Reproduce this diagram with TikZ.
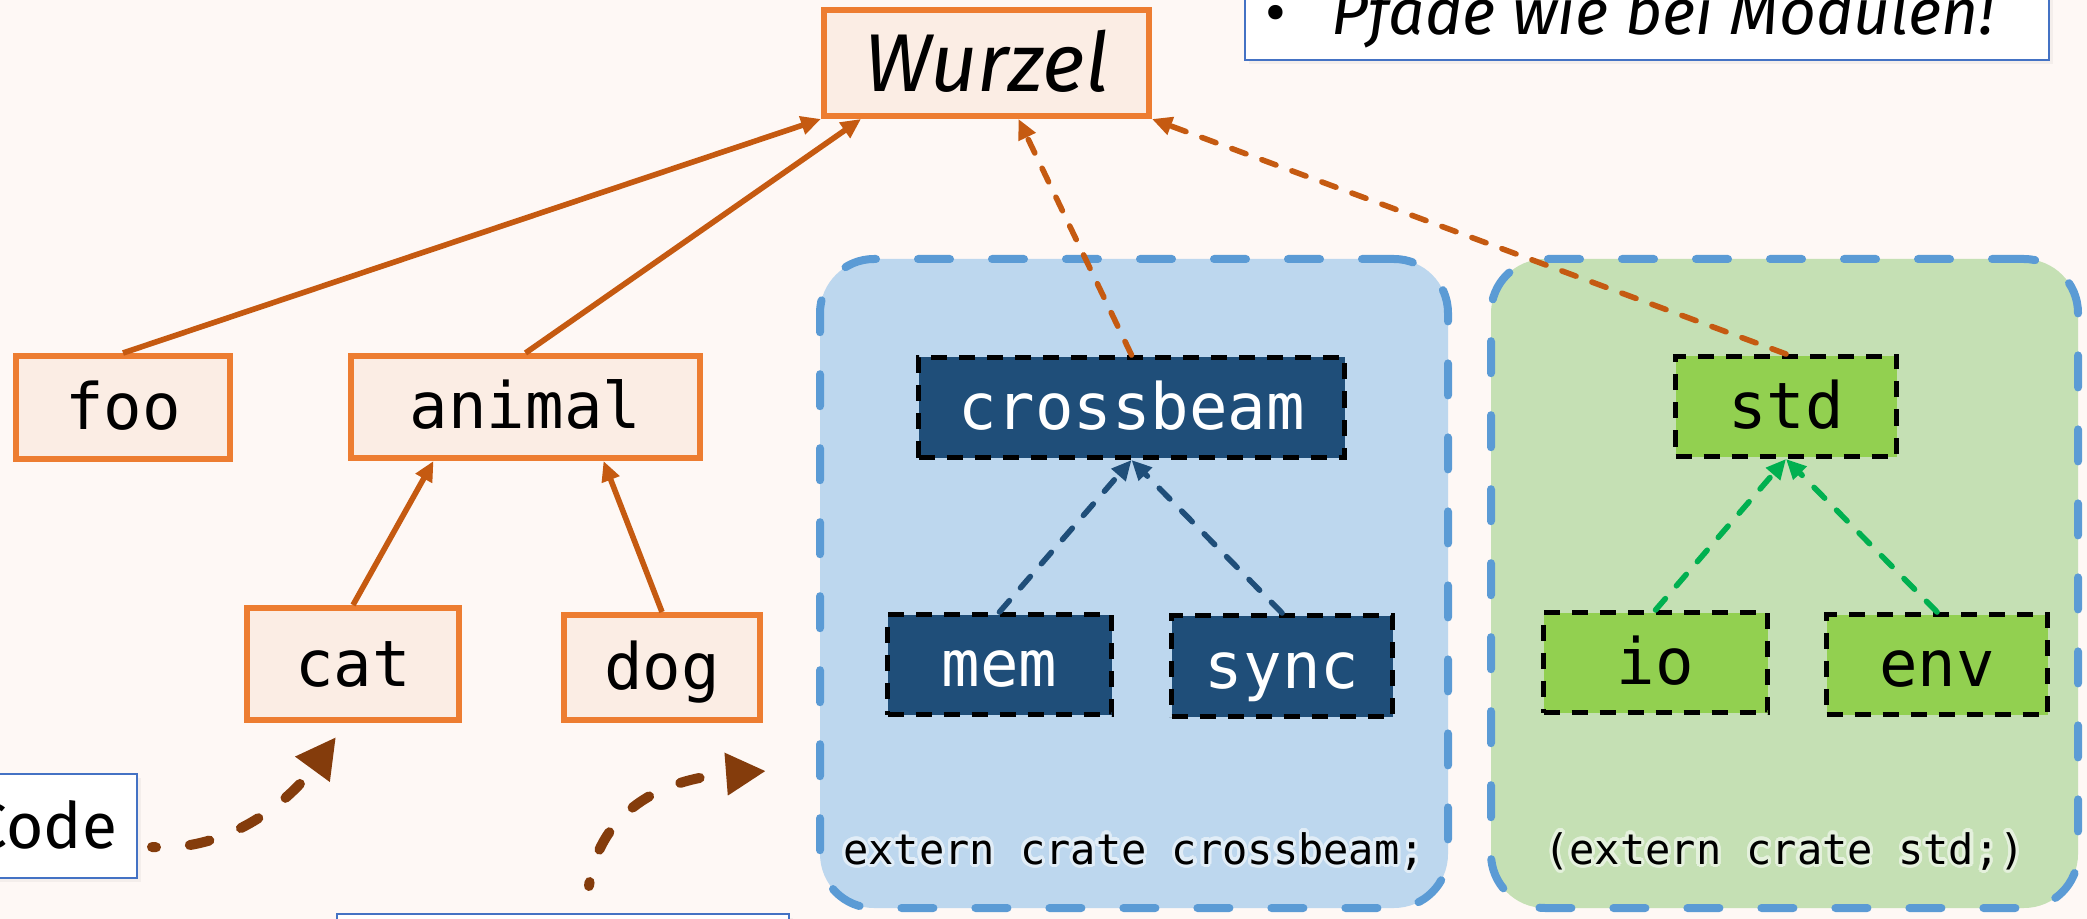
\documentclass[tikz,border=0pt]{standalone}
\usepackage{fontspec}
\setmainfont{Fira Sans}
\setmonofont{DejaVu Sans Mono}
\usepackage{contour}
\contourlength{1.6pt}
\contournumber{24}
\usetikzlibrary{arrows.meta, shadows}
\definecolor{slidebg}{HTML}{FEF8F5}
\definecolor{modline}{HTML}{ED7D31}
\definecolor{modfill}{HTML}{FBEDE4}
\definecolor{modarrow}{HTML}{C55A11}
\definecolor{crateline}{HTML}{5B9BD5}
\definecolor{crossbg}{HTML}{BDD7EE}
\definecolor{stdbg}{HTML}{C5E0B4}
\definecolor{crossmod}{HTML}{1F4E79}
\definecolor{stdmod}{HTML}{92D050}
\definecolor{stdarrow}{HTML}{00B050}
\definecolor{noteline}{HTML}{4472C4}
\definecolor{hintbrown}{HTML}{843C0C}
\tikzset{
    mod-box/.style = {draw=modline, fill=modfill, line width=3pt, rectangle, inner sep=0pt, font=\ttfamily\fontsize{32}{36}\selectfont, text height=26pt, text depth=4pt},
    crate-mod/.style = {draw=black, line width=2.5pt, dash pattern=on 8pt off 6pt, rectangle, inner sep=0pt, font=\ttfamily\fontsize{32}{36}\selectfont, text height=26pt, text depth=4pt},
    crate-box/.style = {draw=crateline, line width=4pt, line cap=round, dash pattern=on 16pt off 21pt, rounded corners=27pt, inner sep=0pt},
    crate-label/.style = {font=\ttfamily\fontsize{21}{24}\selectfont, inner sep=0pt},
    note-box/.style = {draw=noteline, fill=white, line width=1pt, rectangle, drop shadow={opacity=0.08, shadow xshift=2pt, shadow yshift=-2pt}},
    tree-arrow/.style = {draw=modarrow, line width=2.8pt, -{Triangle[length=10pt,width=9pt]}},
    dep-arrow/.style = {line width=2.8pt, line cap=round, dash pattern=on 7.5pt off 8.5pt, -{Triangle[length=10pt,width=9pt]}},
    hint-arrow/.style = {draw=hintbrown, line width=5pt, line cap=round, dash pattern=on 10pt off 17pt, dash phase=8pt, -{Triangle[length=20pt,width=20pt]}},
}

\begin{document}
\begin{tikzpicture}[x=0.5pt, y=-0.5pt]
\fill[slidebg] (0,0) rectangle (2087,919);
\useasboundingbox (0,0) rectangle (2087,919);

\node[crate-box, fill=crossbg, minimum width=314pt, minimum height=324.5pt] (cbox) at (1134,583.5) {};
\node[crate-box, fill=stdbg, minimum width=293.5pt, minimum height=324.5pt] (sbox) at (1784.5,583.5) {};
\node[crate-label, anchor=base] (cblabel) at ([yshift=24pt]cbox.south) {\contour{white!55!crossbg}{extern crate crossbeam;}};
\node[crate-label, anchor=base] (sblabel) at ([yshift=24pt]sbox.south) {\contour{white!55!stdbg}{(extern crate std;)}};

\node[note-box, anchor=south west, inner xsep=10pt, inner ysep=5.5pt, font=\fontsize{32}{36}\selectfont, text height=30pt, text depth=7pt] (hint) at (1244,61) {\makebox[382pt][l]{\textbullet\hspace{23pt}\itshape Pfade wie bei Modulen!}};
\node[note-box, anchor=east, minimum height=52pt, inner xsep=10pt, font=\fontsize{32}{40}\selectfont, text height=26pt, text depth=4pt] (code) at (138,826) {Code};
\node[note-box, anchor=north west, minimum width=226pt, minimum height=60pt] (libnote) at (336,913) {};

\node[mod-box, minimum width=162.5pt, minimum height=53pt, font=\itshape\fontsize{41}{46}\selectfont, text height=33pt, text depth=4pt] (wurzel) at (986.5,63) {Wurzel};
\node[mod-box, minimum width=107pt, minimum height=51.5pt] (foo) at (123,407.5) {foo};
\node[mod-box, minimum width=174.5pt, minimum height=51pt] (animal) at (525.5,407) {animal};
\node[mod-box, minimum width=106pt, minimum height=56pt] (cat) at (353,664) {cat};
\node[mod-box, minimum width=98pt, minimum height=52.5pt] (dog) at (662,667.5) {dog};

\node[crate-mod, fill=crossmod, text=white, minimum width=213pt, minimum height=50pt] (crossbeam) at (1131.5,407.5) {crossbeam};
\node[crate-mod, fill=crossmod, text=white, minimum width=112pt, minimum height=50pt] (mem) at (999.5,664.5) {mem};
\node[crate-mod, fill=crossmod, text=white, minimum width=110.5pt, minimum height=50.5pt] (sync) at (1282,666) {sync};
\node[crate-mod, fill=stdmod, minimum width=110.5pt, minimum height=50pt] (std) at (1786,406.5) {std};
\node[crate-mod, fill=stdmod, minimum width=112pt, minimum height=50pt] (io) at (1655.5,662.5) {io};
\node[crate-mod, fill=stdmod, minimum width=110.5pt, minimum height=50pt] (env) at (1937,664.5) {env};

\draw[tree-arrow] (foo.north) -- (wurzel.south west);
\draw[tree-arrow] (animal.north) -- ([xshift=20pt]wurzel.south west);
\draw[tree-arrow] (cat.north) -- ([xshift=-46pt]animal.south);
\draw[tree-arrow] (dog.north) -- ([xshift=39pt]animal.south);
\draw[dep-arrow, modarrow] (crossbeam.north) -- ([xshift=16pt]wurzel.south);
\draw[dep-arrow, modarrow] (std.north) -- (wurzel.south east);
\draw[dep-arrow, crossmod] (mem.north) -- (crossbeam.south);
\draw[dep-arrow, crossmod] (sync.north) -- (crossbeam.south);
\draw[dep-arrow, stdarrow] (io.north) -- (std.south);
\draw[dep-arrow, stdarrow] (env.north) -- (std.south);

\coordinate (cat-hint) at (336,737);
\coordinate (dog-hint) at (766,771);
\draw[hint-arrow] ([shift={(7pt,-10.5pt)}]code.east) .. controls (230,852) and (290,800) .. (cat-hint);
\draw[hint-arrow] ([shift={(13pt,13.5pt)}]libnote.north) .. controls (598,820) and (650,780) .. (dog-hint);
\end{tikzpicture}
\end{document}
